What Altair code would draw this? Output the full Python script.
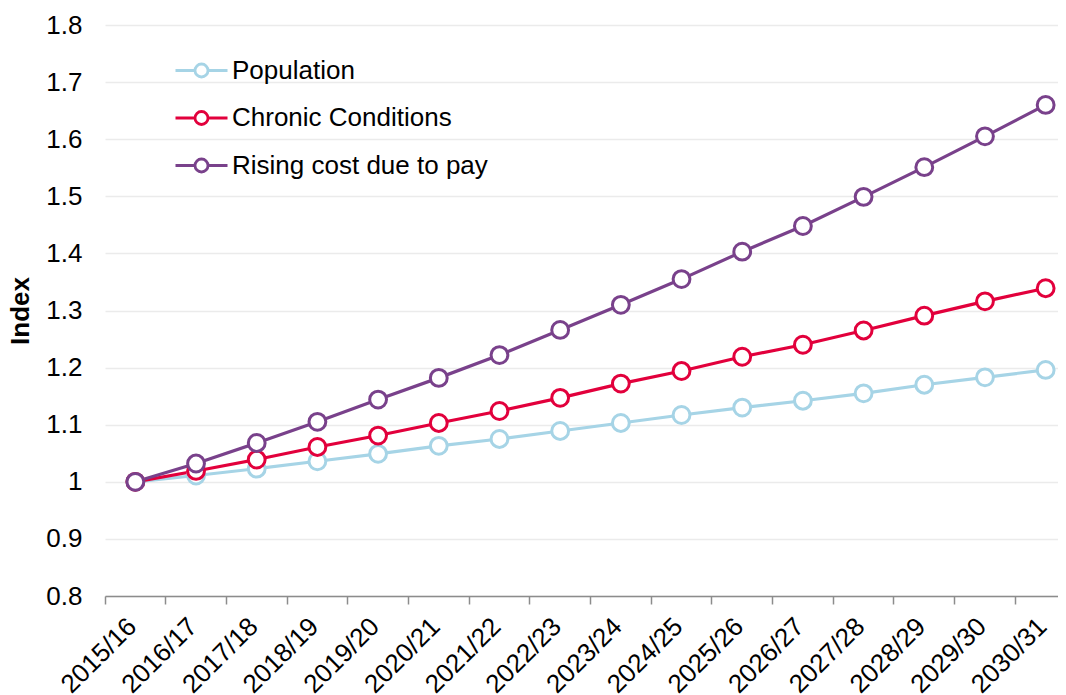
import altair as alt
import pandas as pd

years = ["2015/16", "2016/17", "2017/18", "2018/19", "2019/20", "2020/21",
         "2021/22", "2022/23", "2023/24", "2024/25", "2025/26", "2026/27",
         "2027/28", "2028/29", "2029/30", "2030/31"]

population = [1.000, 1.011, 1.023, 1.036, 1.049, 1.063, 1.075, 1.089,
              1.103, 1.117, 1.130, 1.142, 1.155, 1.170, 1.183, 1.196]
chronic = [1.000, 1.019, 1.039, 1.061, 1.081, 1.103, 1.124, 1.147,
           1.172, 1.194, 1.219, 1.240, 1.265, 1.291, 1.316, 1.339]
rising_pay = [1.000, 1.032, 1.068, 1.105, 1.144, 1.182, 1.222, 1.266,
              1.310, 1.355, 1.403, 1.448, 1.499, 1.551, 1.605, 1.660]

series_names = ["Population", "Chronic Conditions", "Rising cost due to pay"]
series_colors = ["#a6d4e6", "#e2003c", "#79418b"]
y_ticks = [0.8, 0.9, 1.0, 1.1, 1.2, 1.3, 1.4, 1.5, 1.6, 1.7, 1.8]

rows = []
for name, vals in zip(series_names, [population, chronic, rising_pay]):
    for yr, v in zip(years, vals):
        rows.append({"year": yr, "series": name, "value": v})
df = pd.DataFrame(rows)

FONT = "Liberation Sans"
legend_path = ("M-2,0L-0.5,0M0.5,0L2,0"
               "M0.5,0A0.5,0.5,0,1,1,-0.5,0A0.5,0.5,0,1,1,0.5,0")

x_enc = alt.X(
    "year:N",
    sort=years,
    scale=alt.Scale(type="band", domain=years, range=[0, 971],
                    paddingInner=0, paddingOuter=0),
    axis=alt.Axis(
        title=None, bandPosition=0, labelOffset=-3, labelAngle=-45,
        labelAlign="right", labelBaseline="middle", labelPadding=18,
        labelOverlap=False, labelFont=FONT, labelFontSize=26,
        labelColor="black", tickSize=8, tickColor="#8c8c8c",
        tickWidth=1.5, domainColor="#8c8c8c", domainWidth=1.5, grid=False,
    ),
)
y_enc = alt.Y(
    "value:Q",
    scale=alt.Scale(domain=[0.8, 1.8], nice=False, zero=False),
    axis=alt.Axis(
        values=y_ticks, format="~g", grid=True, gridColor="#ebebeb",
        gridWidth=1.5, domain=False, ticks=False, labelPadding=23,
        labelFont=FONT, labelFontSize=26, labelColor="black",
        title="Index", titleFont=FONT, titleFontSize=26,
        titleFontWeight="bold", titleColor="black", titlePadding=12,
    ),
)

lines = alt.Chart(df).mark_line(strokeWidth=3.2).encode(
    x=x_enc,
    y=y_enc,
    color=alt.Color(
        "series:N",
        scale=alt.Scale(domain=series_names, range=series_colors),
        legend=alt.Legend(
            title=None, orient="none", legendX=82, legendY=31,
            symbolType=legend_path, symbolSize=676, symbolStrokeWidth=2.8,
            labelFont=FONT, labelFontSize=26, labelColor="black",
            labelOffset=16, labelLimit=0, rowPadding=19.5, padding=0,
        ),
    ),
)

points = alt.Chart(df).mark_point(
    shape="circle", filled=True, fill="white", size=283, strokeWidth=3,
    opacity=1,
).encode(
    x=x_enc,
    y=y_enc,
    stroke=alt.Stroke(
        "series:N",
        scale=alt.Scale(domain=series_names, range=series_colors),
        legend=None,
    ),
)

chart = alt.layer(lines, points).properties(
    width=953,
    height=571,
    autosize=alt.AutoSizeParams(type="none"),
    padding={"left": 97, "top": 17, "right": 0, "bottom": 100},
).configure_view(stroke=None)

chart.save("out.html", embed_options={"renderer": "svg", "actions": False})
